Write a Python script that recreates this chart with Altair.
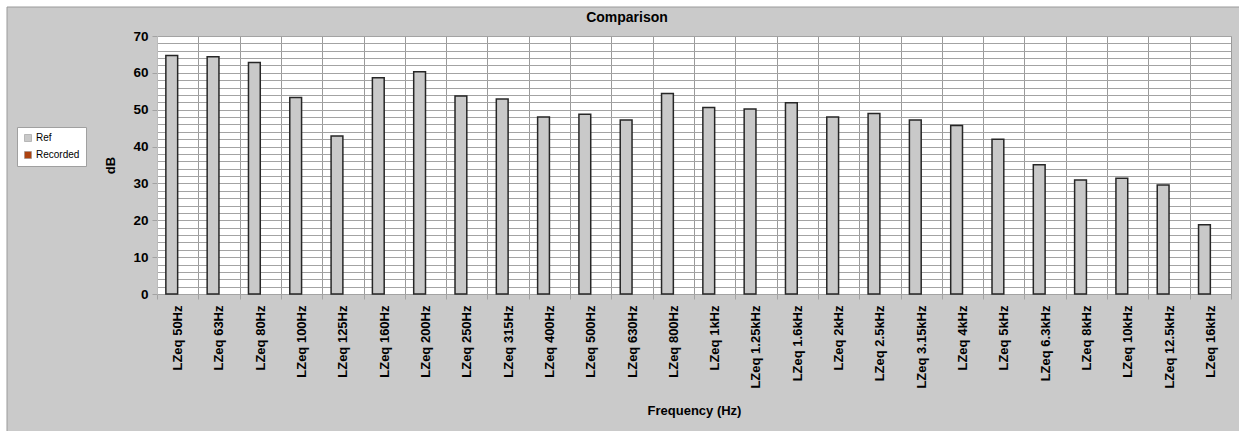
import altair as alt
import pandas as pd

categories = [
    "LZeq 50Hz", "LZeq 63Hz", "LZeq 80Hz", "LZeq 100Hz", "LZeq 125Hz", "LZeq 160Hz",
    "LZeq 200Hz", "LZeq 250Hz", "LZeq 315Hz", "LZeq 400Hz", "LZeq 500Hz", "LZeq 630Hz",
    "LZeq 800Hz", "LZeq 1kHz", "LZeq 1.25kHz", "LZeq 1.6kHz", "LZeq 2kHz", "LZeq 2.5kHz",
    "LZeq 3.15kHz", "LZeq 4kHz", "LZeq 5kHz", "LZeq 6.3kHz", "LZeq 8kHz", "LZeq 10kHz",
    "LZeq 12.5kHz", "LZeq 16kHz",
]
ref_values = [
    64.7, 64.4, 62.8, 53.3, 42.9, 58.7,
    60.3, 53.7, 52.9, 48.0, 48.8, 47.2,
    54.4, 50.6, 50.2, 51.9, 48.0, 49.0,
    47.2, 45.7, 42.0, 35.1, 30.9, 31.4,
    29.6, 18.8,
]
series = ["Ref", "Recorded"]
series_colors = ["#c9c9c9", "#ad420f"]
y_values = list(range(0, 71, 2))

df = pd.DataFrame({"Frequency": categories, "dB": ref_values, "Series": ["Ref"] * len(categories)})

W, H = 1074, 258
FONT = "Liberation Sans"
GRID = "#a3a3a3"

bars = alt.Chart(df).mark_bar(stroke="#262626", strokeWidth=1.5).encode(
    x=alt.X(
        "Frequency:N",
        sort=categories,
        scale=alt.Scale(paddingInner=0, paddingOuter=0),
        axis=alt.Axis(
            title="Frequency (Hz)",
            labelAngle=-90,
            labelFont=FONT,
            labelFontWeight="bold",
            labelFontSize=13,
            labelColor="black",
            labelPadding=6,
            tickBand="extent",
            grid=True,
            gridColor="#9a9a9a",
            tickColor=GRID,
            tickSize=5,
            domainColor=GRID,
            titleFont=FONT,
            titleFontSize=13,
            titleFontWeight="bold",
            titleColor="black",
            titleY=116,
            titleBaseline="middle",
        ),
    ),
    xOffset=alt.XOffset(
        "Series:N",
        scale=alt.Scale(domain=series, paddingInner=0, paddingOuter=0.75),
    ),
    y=alt.Y(
        "dB:Q",
        scale=alt.Scale(domain=[0, 70], nice=False),
        axis=alt.Axis(
            title="dB",
            values=y_values,
            labelExpr="datum.value % 10 == 0 ? datum.label : ''",
            labelOverlap=False,
            labelFont=FONT,
            labelFontWeight="bold",
            labelFontSize=13.5,
            labelColor="black",
            labelPadding=4,
            tickSize=5,
            tickColor=GRID,
            tickOpacity=alt.condition("datum.value % 10 == 0", alt.value(1), alt.value(0)),
            grid=True,
            gridColor=GRID,
            domainColor="#bdbdbd",
            titleFont=FONT,
            titleFontSize=13,
            titleFontWeight="bold",
            titleColor="black",
            titleX=-47,
            titleY=129,
            titleAngle=-90,
            titleAlign="center",
            titleBaseline="middle",
        ),
    ),
    color=alt.Color(
        "Series:N",
        scale=alt.Scale(domain=series, range=series_colors),
        legend=alt.Legend(
            title=None,
            orient="none",
            legendX=-140,
            legendY=91,
            fillColor="white",
            strokeColor="#a0a0a0",
            padding=6,
            rowPadding=7,
            symbolType="square",
            symbolSize=49,
            symbolStrokeColor="#8a8a8a",
            symbolStrokeWidth=0.5,
            labelFont=FONT,
            labelFontSize=10,
            labelColor="black",
            labelOffset=3,
        ),
    ),
)

decor_src = pd.DataFrame({"k": [0]})
top_strip = alt.Chart(decor_src).mark_rect(color="white").encode(
    x=alt.value(-157), x2=alt.value(W + 8), y=alt.value(-36), y2=alt.value(-29)
)
left_strip = alt.Chart(decor_src).mark_rect(color="white").encode(
    x=alt.value(-157), x2=alt.value(-150), y=alt.value(-36), y2=alt.value(H + 137)
)
top_line = alt.Chart(decor_src).mark_rule(color="#9a9a9a", strokeWidth=1).encode(
    x=alt.value(-150), x2=alt.value(W + 8), y=alt.value(-29)
)
left_line = alt.Chart(decor_src).mark_rule(color="#9a9a9a", strokeWidth=1).encode(
    x=alt.value(-150), y=alt.value(-29), y2=alt.value(H + 137)
)

chart = alt.layer(top_strip, left_strip, top_line, left_line, bars).properties(
    width=W,
    height=H,
    title=alt.TitleParams(
        "Comparison", font=FONT, fontSize=14, fontWeight="bold", color="black",
        anchor="middle", dx=-67, offset=-25,
    ),
    autosize=alt.AutoSizeParams(type="none"),
    padding={"left": 157, "top": 36, "right": 8, "bottom": 137},
    background="#cacaca",
).configure_view(fill="white", strokeWidth=0)

chart.save("out.html", embed_options={"renderer": "svg", "actions": False})
